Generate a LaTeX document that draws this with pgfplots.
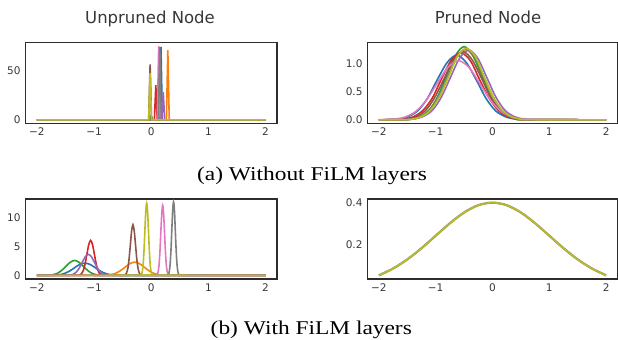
\documentclass[border=0pt]{standalone}
\usepackage{pgfplots}
\pgfplotsset{compat=1.18}
\usepackage{fontspec}
\setmainfont{DejaVu Sans}
\newfontfamily\capfont{Liberation Serif}
\definecolor{c0}{HTML}{1F77B4}
\definecolor{c1}{HTML}{FF7F0E}
\definecolor{c2}{HTML}{2CA02C}
\definecolor{c3}{HTML}{D62728}
\definecolor{c4}{HTML}{9467BD}
\definecolor{c5}{HTML}{8C564B}
\definecolor{c6}{HTML}{E377C2}
\definecolor{c7}{HTML}{7F7F7F}
\definecolor{c8}{HTML}{BCBD22}
\definecolor{framec}{RGB}{45,45,45}
\definecolor{txt}{RGB}{55,55,55}
\pgfplotsset{
 panel/.style={scale only axis, anchor=south west, xmin=-2.2, xmax=2.2,
   axis line style={framec, line width=1.1bp},
   major tick length=0pt, tick style={draw=none},
   xtick={-2,-1,0,1,2}, xticklabels={−2,−1,0,1,2},
   ticklabel style={font=\fontsize{10.5bp}{12bp}\selectfont, text=txt},
   xticklabel style={yshift=-1bp}, yticklabel style={xshift=-1.5bp},
   every axis plot/.append style={line width=1.6bp, mark=none}},
 sm/.style={smooth, tension=0.5}
}
\begin{document}
\begin{tikzpicture}
\path[use as bounding box] (0,0) rectangle (618bp,340bp);
% ---------- (a) Unpruned ----------
\begin{axis}[panel, at={(25.5bp,216.5bp)}, width=251.5bp, height=81bp,
  ymin=-3.8, ymax=79.5, ytick={0,50}, yticklabels={0,50}]
\addplot[c0] coordinates {(-2,0) (0.145,0) (0.17,75) (0.195,0) (2,0)};
\addplot[c1] coordinates {(-2,0) (0.265,0) (0.29,71.6) (0.315,0) (2,0)};
\addplot[c2] coordinates {(-2,0) (-0.02,0) (0.0,4) (0.02,0) (2,0)};
\addplot[c3] coordinates {(-2,0) (0.055,0) (0.08,35.5) (0.105,0) (2,0)};
\addplot[c4] coordinates {(-2,0) (0.185,0) (0.21,28.7) (0.235,0) (2,0)};
\addplot[c5] coordinates {(-2,0) (-0.045,0) (-0.02,57) (0.005,0) (2,0)};
\addplot[c6] coordinates {(-2,0) (0.105,0) (0.13,75.7) (0.155,0) (2,0)};
\addplot[c7] coordinates {(-2,0) (0.125,0) (0.15,75) (0.175,0) (2,0)};
\addplot[c8] coordinates {(-2,0) (-0.045,0) (-0.02,48) (0.005,0) (2,0)};
\end{axis}
% ---------- (a) Pruned ----------
\begin{axis}[panel, at={(367.5bp,216.5bp)}, width=250bp, height=81bp,
  ymin=-0.065, ymax=1.373, ytick={0,0.5,1}, yticklabels={0.0,0.5,1.0}]
\addplot[c0, sm] coordinates {(-2,0) (-1.84,0.0025) (-1.67,0.0128) (-1.50,0.0505) (-1.32,0.1556) (-1.15,0.3734) (-0.98,0.6975) (-0.80,1.0149) (-0.63,1.15) (-0.46,1.0149) (-0.28,0.6975) (-0.11,0.3734) (0.06,0.1556) (0.24,0.0505) (0.41,0.0128) (0.58,0.0025) (2,0)};
\addplot[c1, sm] coordinates {(-2,0) (-1.60,0.003) (-1.44,0.014) (-1.28,0.055) (-1.12,0.169) (-0.96,0.406) (-0.80,0.758) (-0.64,1.103) (-0.48,1.25) (-0.32,1.103) (-0.16,0.758) (0.00,0.406) (0.16,0.169) (0.32,0.055) (0.48,0.014) (0.64,0.003) (2,0)};
\addplot[c2, sm] coordinates {(-2,0) (-1.57,0.003) (-1.42,0.014) (-1.27,0.057) (-1.11,0.176) (-0.96,0.422) (-0.81,0.788) (-0.65,1.147) (-0.50,1.30) (-0.35,1.147) (-0.19,0.788) (-0.04,0.422) (0.11,0.176) (0.27,0.057) (0.42,0.014) (0.57,0.003) (2,0)};
\addplot[c3, sm] coordinates {(-2,0) (-1.73,0.003) (-1.57,0.013) (-1.40,0.052) (-1.23,0.161) (-1.06,0.386) (-0.90,0.722) (-0.73,1.050) (-0.56,1.19) (-0.39,1.050) (-0.23,0.722) (-0.06,0.386) (0.11,0.161) (0.28,0.052) (0.45,0.013) (0.61,0.003) (2,0)};
\addplot[c4, sm] coordinates {(-2,0) (-1.55,0.003) (-1.39,0.014) (-1.23,0.054) (-1.06,0.168) (-0.90,0.403) (-0.74,0.752) (-0.58,1.094) (-0.42,1.24) (-0.26,1.094) (-0.10,0.752) (0.06,0.403) (0.22,0.168) (0.39,0.054) (0.55,0.014) (0.71,0.003) (2,0)};
\addplot[c5, sm] coordinates {(-2,0) (-1.68,0.003) (-1.51,0.013) (-1.35,0.053) (-1.18,0.164) (-1.02,0.393) (-0.85,0.734) (-0.69,1.068) (-0.52,1.21) (-0.36,1.068) (-0.19,0.734) (-0.03,0.393) (0.14,0.164) (0.31,0.053) (0.47,0.013) (0.64,0.003) (2,0)};
\addplot[c6, sm] coordinates {(-2,0.001) (-1.93,0.002) (-1.74,0.012) (-1.55,0.046) (-1.36,0.142) (-1.17,0.341) (-0.98,0.637) (-0.79,0.927) (-0.60,1.05) (-0.41,0.927) (-0.22,0.637) (-0.03,0.341) (0.16,0.142) (0.35,0.046) (0.54,0.012) (0.73,0.002) (2,0)};
\addplot[c7, sm] coordinates {(-2,0) (-1.58,0.003) (-1.42,0.014) (-1.26,0.055) (-1.10,0.170) (-0.95,0.409) (-0.79,0.764) (-0.63,1.112) (-0.47,1.26) (-0.31,1.112) (-0.15,0.764) (0.01,0.409) (0.16,0.170) (0.32,0.055) (0.48,0.014) (0.64,0.003) (2,0)};
\addplot[c8, sm] coordinates {(-2,0) (-1.56,0.003) (-1.40,0.014) (-1.25,0.056) (-1.09,0.172) (-0.93,0.412) (-0.77,0.770) (-0.62,1.121) (-0.46,1.27) (-0.30,1.121) (-0.15,0.770) (0.01,0.412) (0.17,0.172) (0.33,0.056) (0.48,0.014) (0.64,0.003) (2,0)};
\end{axis}
% ---------- (b) Unpruned ----------
\begin{axis}[panel, at={(25.5bp,61bp)}, width=251.5bp, height=80bp,
  ymin=-0.63, ymax=13.3, ytick={0,5,10}, yticklabels={0,5,10}]
\addplot[c0, sm] coordinates {(-2,0) (-1.811,0.005) (-1.718,0.02) (-1.625,0.09) (-1.532,0.29) (-1.439,0.69) (-1.346,1.30) (-1.253,1.89) (-1.16,2.14) (-1.067,1.89) (-0.974,1.30) (-0.881,0.69) (-0.788,0.29) (-0.695,0.09) (-0.602,0.02) (-0.509,0.005) (2,0)};
\addplot[c1, sm] coordinates {(-2,0) (-0.896,0.005) (-0.809,0.03) (-0.723,0.10) (-0.636,0.31) (-0.550,0.75) (-0.463,1.39) (-0.377,2.03) (-0.29,2.3) (-0.204,2.03) (-0.117,1.39) (-0.031,0.75) (0.056,0.31) (0.143,0.10) (0.229,0.03) (0.316,0.005) (2,0)};
\addplot[c2, sm] coordinates {(-2,0) (-1.876,0.01) (-1.799,0.03) (-1.723,0.11) (-1.646,0.35) (-1.570,0.84) (-1.493,1.58) (-1.417,2.29) (-1.34,2.6) (-1.264,2.29) (-1.187,1.58) (-1.111,0.84) (-1.034,0.35) (-0.958,0.11) (-0.881,0.03) (-0.805,0.01) (2,0)};
\addplot[c3, sm] coordinates {(-2,0) (-1.288,0.01) (-1.255,0.07) (-1.223,0.27) (-1.19,0.83) (-1.158,1.98) (-1.125,3.70) (-1.093,5.38) (-1.06,6.1) (-1.028,5.38) (-0.995,3.70) (-0.963,1.98) (-0.93,0.83) (-0.898,0.27) (-0.865,0.07) (-0.833,0.01) (2,0)};
\addplot[c4, sm] coordinates {(-2,0) (-1.482,0.01) (-1.427,0.04) (-1.373,0.16) (-1.318,0.50) (-1.264,1.19) (-1.209,2.22) (-1.155,3.23) (-1.10,3.66) (-1.046,3.23) (-0.991,2.22) (-0.937,1.19) (-0.882,0.50) (-0.828,0.16) (-0.773,0.04) (-0.719,0.01) (2,0)};
\addplot[c5, sm] coordinates {(-2,0) (-0.478,0.02) (-0.455,0.10) (-0.433,0.39) (-0.41,1.19) (-0.388,2.86) (-0.365,5.34) (-0.343,7.77) (-0.32,8.8) (-0.298,7.77) (-0.275,5.34) (-0.253,2.86) (-0.23,1.19) (-0.208,0.39) (-0.185,0.10) (-0.163,0.02) (2,0)};
\addplot[c6, sm] coordinates {(-2,0) (0.086,0.03) (0.102,0.14) (0.118,0.54) (0.135,1.65) (0.151,3.96) (0.167,7.40) (0.184,10.77) (0.20,12.2) (0.216,10.77) (0.233,7.40) (0.249,3.96) (0.265,1.65) (0.282,0.54) (0.298,0.14) (0.315,0.03) (2,0)};
\addplot[c7, sm] coordinates {(-2,0) (0.282,0.03) (0.297,0.14) (0.313,0.56) (0.328,1.73) (0.344,4.16) (0.359,7.76) (0.375,11.30) (0.39,12.8) (0.406,11.30) (0.421,7.76) (0.437,4.16) (0.452,1.73) (0.468,0.56) (0.483,0.14) (0.499,0.03) (2,0)};
\addplot[c8, sm] coordinates {(-2,0) (-0.191,0.03) (-0.175,0.14) (-0.159,0.55) (-0.143,1.70) (-0.128,4.09) (-0.112,7.64) (-0.096,11.12) (-0.080,12.6) (-0.064,11.12) (-0.048,7.64) (-0.032,4.09) (-0.017,1.70) (-0.001,0.55) (0.015,0.14) (0.031,0.03) (2,0)};
\end{axis}
% ---------- (b) Pruned ----------
\begin{axis}[panel, at={(367.5bp,61bp)}, width=250bp, height=80bp,
  ymin=0.0367, ymax=0.4162, ytick={0.2,0.4}, yticklabels={0.2,0.4}]
\addplot[c7, sm, line width=2.2bp] coordinates {(-2,0.0540) (-1.75,0.0863) (-1.5,0.1295) (-1.25,0.1826) (-1,0.2420) (-0.75,0.3011) (-0.5,0.3521) (-0.25,0.3867) (0,0.3989) (0.25,0.3867) (0.5,0.3521) (0.75,0.3011) (1,0.2420) (1.25,0.1826) (1.5,0.1295) (1.75,0.0863) (2,0.0540)};
\addplot[c8, sm] coordinates {(-2,0.0540) (-1.75,0.0863) (-1.5,0.1295) (-1.25,0.1826) (-1,0.2420) (-0.75,0.3011) (-0.5,0.3521) (-0.25,0.3867) (0,0.3989) (0.25,0.3867) (0.5,0.3521) (0.75,0.3011) (1,0.2420) (1.25,0.1826) (1.5,0.1295) (1.75,0.0863) (2,0.0540)};
\end{axis}
% ---------- titles and captions ----------
\node[anchor=base, text=txt, font=\fontsize{16.5bp}{18bp}\selectfont] at (150bp,316.3bp) {Unpruned Node};
\node[anchor=base, text=txt, font=\fontsize{16.5bp}{18bp}\selectfont] at (488bp,316.3bp) {Pruned Node};
\node[anchor=base, xscale=1.2, font=\capfont\fontsize{19.5bp}{22bp}\selectfont] at (312bp,159.3bp) {(a) Without FiLM layers};
\node[anchor=base, xscale=1.2, font=\capfont\fontsize{19.5bp}{22bp}\selectfont] at (311.3bp,6bp) {(b) With FiLM layers};
\end{tikzpicture}
\end{document}
